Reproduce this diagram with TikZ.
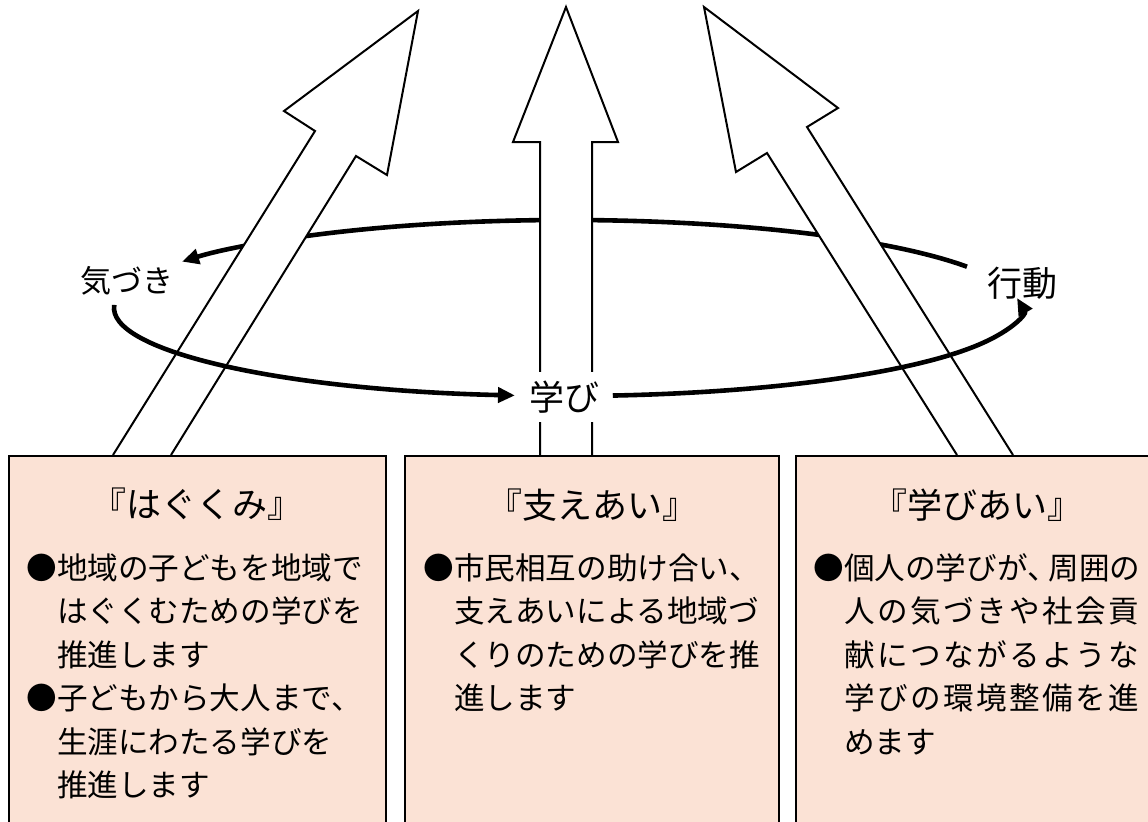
\documentclass[tikz,border=0pt]{standalone}
\usepackage{fontspec}
\newfontfamily\jp{Noto Sans CJK JP}
\usetikzlibrary{arrows.meta,calc}
\definecolor{boxfill}{RGB}{251,226,213}
\newcommand{\wideline}[1]{\makebox[147.5pt][l]{#1}}
\begin{document}
\begin{tikzpicture}[x=0.5pt,y=-0.5pt,
  bigarrow/.style={draw=black,fill=white,line width=1pt,line join=miter},
  loopline/.style={line width=2.3pt},
  looptip/.style={-{Triangle[length=8.5pt,width=7.5pt]}},
  panel/.style={draw=black,fill=boxfill,line width=1.2pt,anchor=north west,inner sep=0pt},
  cyclabel/.style={font=\jp\fontsize{17.5}{20}\selectfont,inner sep=0pt},
  paneltitle/.style={font=\jp\fontsize{17.5}{20}\selectfont,anchor=center,inner sep=0pt},
  body/.style={font=\jp\fontsize{15.3}{21.75}\selectfont,align=left,anchor=north west,inner sep=0pt}]
\useasboundingbox (0,0) rectangle (1148,821);
\clip (0,0) rectangle (1148,821);
\coordinate (c) at (567,308);
% top arc of the cycle (behind the big arrows)
\coordinate (topstart) at ($(c)+(-28:453 and 88)$);
\draw[loopline,looptip] (topstart) arc[start angle=-28,end angle=-148.2,x radius=453,y radius=88];
% big arrows
\draw[bigarrow] (113,455) -- (315,131) -- (284,111) -- (418,11) -- (387,175) -- (356,156) -- (171,455);
\draw[bigarrow] (540,455) -- (540,142) -- (513,142) -- (566,7) -- (618,142) -- (592,142) -- (592,455);
\draw[bigarrow] (957,455) -- (767,153) -- (736,172) -- (704,7) -- (838,108) -- (807,127) -- (1013,455);
% bottom arcs of the cycle (over the big arrows)
\coordinate (leftstart) at ($(c)+(182:453 and 88)$);
\draw[loopline,looptip] (leftstart) arc[start angle=182,end angle=96.6,x radius=453,y radius=88];
\coordinate (rightstart) at ($(c)+(84.2:453 and 88)$);
\draw[loopline,looptip] (rightstart) arc[start angle=84.2,end angle=-6.5,x radius=453,y radius=88];
% cycle labels
\node[cyclabel,font=\jp\fontsize{15.5}{18}\selectfont] (kizuki) at (127,281) {気づき};
\node[cyclabel] (kodo) at (1022,283) {行動};
\node[cyclabel,fill=white,minimum width=42pt,minimum height=25pt] (manabi) at (564,397) {学び};
% panels
\node[panel,minimum width=188.5pt,minimum height=200pt] (boxA) at (8,455) {};
\node[panel,minimum width=187pt,minimum height=200pt] (boxB) at (404,455) {};
\node[panel,minimum width=186pt,minimum height=200pt] (boxC) at (795,455) {};
\node[paneltitle] (titleA) at (197,504) {『はぐくみ』};
\node[paneltitle] (titleB) at (592,505) {『支えあい』};
\node[paneltitle] (titleC) at (977,505) {『学びあい』};
\node[body] (bodyA) at (26,553) {●地域の子どもを地域で\\　はぐくむための学びを\\　推進します\\●子どもから大人まで、\\　生涯にわたる学びを\\　推進します};
\node[body] (bodyB) at (423,553) {●市民相互の助け合い、\\　支えあいによる地域づ\\　くりのための学びを推\\　進します};
\node[body] (bodyC) at (813,553) {●個人の学びが、\kern-0.3em 周囲の\\　\wideline{人\hfill の\hfill 気\hfill づ\hfill き\hfill や\hfill 社\hfill 会\hfill 貢}\\　\wideline{献\hfill に\hfill つ\hfill な\hfill が\hfill る\hfill よ\hfill う\hfill な}\\　\wideline{学\hfill び\hfill の\hfill 環\hfill 境\hfill 整\hfill 備\hfill を\hfill 進}\\　めます};
\end{tikzpicture}
\end{document}
